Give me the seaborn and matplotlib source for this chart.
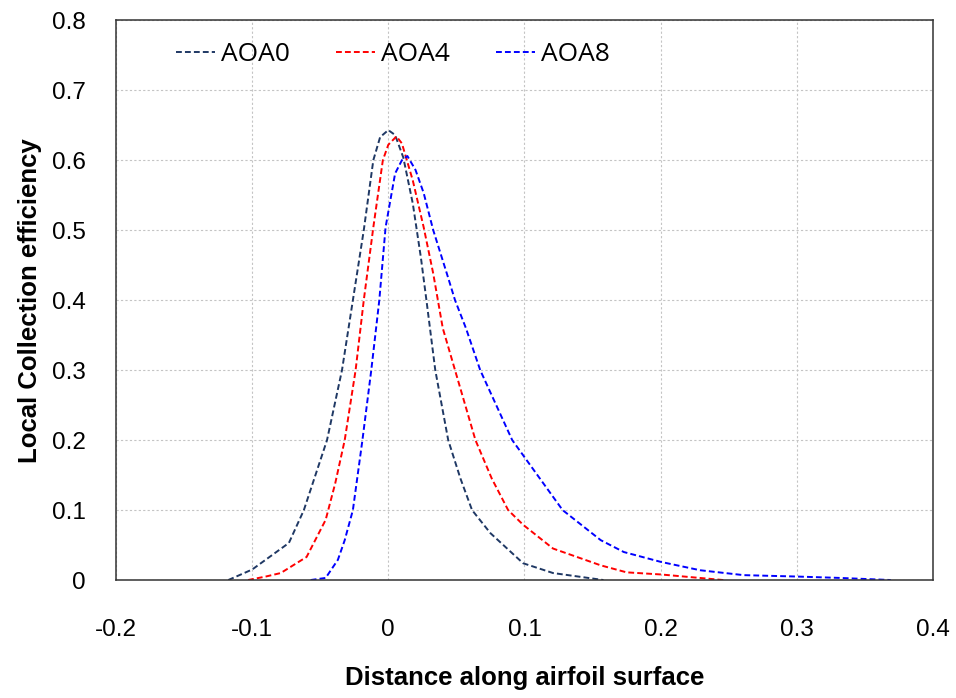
import numpy as np
import pandas as pd
import matplotlib
matplotlib.use('Agg')
import matplotlib.pyplot as plt
import seaborn as sns

# ── data ──────────────────────────────────────────────────────────────────────
aoa0_x = [-0.1175, -0.100, -0.073, -0.062, -0.045, -0.034, -0.026, -0.018, -0.011,
          -0.006, 0.000, 0.005, 0.011, 0.018, 0.024, 0.028, 0.0345, 0.044, 0.053,
          0.0615, 0.075, 0.099, 0.121, 0.158]
aoa0_y = [0.0, 0.015, 0.053, 0.10, 0.20, 0.30, 0.40, 0.50, 0.60,
          0.633, 0.643, 0.636, 0.604, 0.538, 0.46, 0.40, 0.30, 0.20, 0.145,
          0.10, 0.067, 0.024, 0.010, 0.0]

aoa4_x = [-0.103, -0.090, -0.079, -0.060, -0.046, -0.039, -0.032, -0.024, -0.018,
          -0.011, -0.004, 0.000, 0.006, 0.010, 0.018, 0.026, 0.033, 0.040, 0.049,
          0.064, 0.076, 0.088, 0.099, 0.121, 0.156, 0.175, 0.200, 0.246]
aoa4_y = [0.0, 0.005, 0.010, 0.033, 0.086, 0.138, 0.20, 0.30, 0.40,
          0.504, 0.60, 0.622, 0.634, 0.624, 0.571, 0.504, 0.438, 0.36, 0.30,
          0.20, 0.145, 0.10, 0.079, 0.045, 0.021, 0.011, 0.008, 0.0]

aoa8_x = [-0.057, -0.046, -0.037, -0.032, -0.026, -0.019, -0.0125, -0.0066, -0.002,
          0.005, 0.010, 0.014, 0.020, 0.026, 0.033, 0.043, 0.049, 0.057, 0.0675, 0.091,
          0.128, 0.156, 0.173, 0.200, 0.229, 0.261, 0.300, 0.332, 0.369]
aoa8_y = [0.0, 0.003, 0.029, 0.057, 0.10, 0.20, 0.30, 0.40, 0.504,
          0.581, 0.600, 0.606, 0.586, 0.553, 0.50, 0.438, 0.40, 0.36, 0.30, 0.20,
          0.10, 0.057, 0.04, 0.026, 0.014, 0.007, 0.005, 0.003, 0.0]

series_names = ['AOA0', 'AOA4', 'AOA8']
x_ticks = [-0.2, -0.1, 0, 0.1, 0.2, 0.3, 0.4]
y_ticks = [0, 0.1, 0.2, 0.3, 0.4, 0.5, 0.6, 0.7, 0.8]

df = pd.concat([
    pd.DataFrame({'x': aoa0_x, 'y': aoa0_y, 'case': 'AOA0'}),
    pd.DataFrame({'x': aoa4_x, 'y': aoa4_y, 'case': 'AOA4'}),
    pd.DataFrame({'x': aoa8_x, 'y': aoa8_y, 'case': 'AOA8'}),
], ignore_index=True)

# ── style ─────────────────────────────────────────────────────────────────────
sns.set_style('white')
plt.rcParams['font.family'] = ['Liberation Sans', 'DejaVu Sans']
plt.rcParams['text.color'] = 'black'
plt.rcParams['axes.labelcolor'] = 'black'
plt.rcParams['xtick.color'] = 'black'
plt.rcParams['ytick.color'] = 'black'

colors = {'AOA0': '#1F3864', 'AOA4': '#FF0000', 'AOA8': '#0000FF'}
dashes = {k: (3, 1.6) for k in series_names}

fig = plt.figure(figsize=(9.56, 6.98), dpi=100)
ax = fig.add_axes([0.1213, 0.169, 0.8546, 0.802])

sns.lineplot(data=df, x='x', y='y', hue='case', style='case',
             palette=colors, dashes=dashes, estimator=None, sort=False,
             linewidth=1.4, legend=False, ax=ax)

ax.set_xlim(-0.2, 0.4)
ax.set_ylim(0, 0.8)
ax.set_xticks(x_ticks)
ax.set_yticks(y_ticks)
ax.set_xticklabels([f'{v:g}' for v in x_ticks])
ax.set_yticklabels([f'{v:g}' for v in y_ticks])
ax.tick_params(axis='x', length=0, pad=28, labelsize=17.5)
ax.tick_params(axis='y', length=0, pad=22, labelsize=17.5)

ax.grid(True, color='#C4C4C4', linestyle=(0, (2, 2)), linewidth=0.8)
for s in ax.spines.values():
    s.set_color('#333333')
    s.set_linewidth(1.1)

ax.set_xlabel('Distance along airfoil surface', fontsize=18.5, fontweight='bold', labelpad=18)
ax.set_ylabel('Local Collection efficiency', fontsize=18.5, fontweight='bold', labelpad=7)

handles = ax.get_lines()[:3]
ax.legend(handles, series_names, loc='upper left', ncol=3, frameon=False,
          bbox_to_anchor=(0.045, 1.003), prop={'family': 'Open Sans', 'size': 19},
          handlelength=1.45, handletextpad=0.25, columnspacing=1.75)

fig.savefig('out.png', dpi=100)
